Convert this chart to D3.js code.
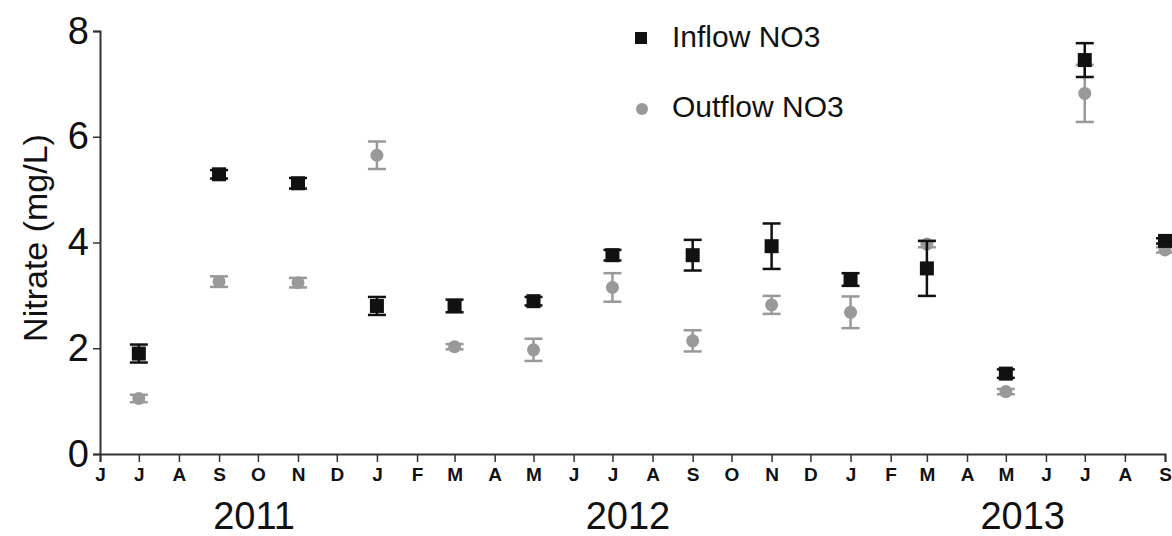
<!DOCTYPE html>
<html>
<head>
<meta charset="utf-8">
<script src="https://cdn.jsdelivr.net/npm/d3@7"></script>
<style>
  html, body { margin: 0; padding: 0; background: #fff; }
  svg { display: block; font-family: "Liberation Sans", Arial, sans-serif; }
</style>
</head>
<body>
<svg width="1172" height="536"></svg>
<script>
// sampling dates (every two months)
var dates = ["2011-07-01", "2011-09-01", "2011-11-01", "2012-01-01", "2012-03-01", "2012-05-01", "2012-07-01",
             "2012-09-01", "2012-11-01", "2013-01-01", "2013-03-01", "2013-05-01", "2013-07-01", "2013-09-01"];

var inflow    = [1.90, 5.29, 5.12, 2.80, 2.80, 2.89, 3.76, 3.76, 3.93, 3.30, 3.51, 1.52, 7.45, 4.03];
var inflowErr = [0.17, 0.08, 0.10, 0.17, 0.12, 0.08, 0.10, 0.29, 0.43, 0.12, 0.52, 0.08, 0.32, 0.05];

var outflow    = [1.05, 3.26, 3.24, 5.65, 2.03, 1.97, 3.15, 2.14, 2.82, 2.68, 3.97, 1.18, 6.82, 3.86];
var outflowErr = [0.07, 0.10, 0.09, 0.26, 0.05, 0.21, 0.27, 0.20, 0.17, 0.30, 0.06, 0.05, 0.54, 0.05];

var yTicks = [0, 2, 4, 6, 8];
var years = ["2011", "2012", "2013"];
var seriesNames = ["Inflow NO3", "Outflow NO3"];

var loadVis = function() {
    var svg = d3.select("svg");
    var parse = d3.timeParse("%Y-%m-%d");

    var x = d3.scaleTime()
        .domain([parse("2011-06-01"), parse("2013-09-01")])
        .range([100, 1165]);

    var y = d3.scaleLinear()
        .domain([0, 8])
        .range([454, 31]);

    // y axis
    var yAxis = svg.append("g")
        .attr("transform", "translate(100,0)")
        .call(d3.axisLeft(y).tickValues(yTicks).tickSize(7).tickPadding(4));
    yAxis.select(".domain").attr("stroke", "#333").attr("stroke-width", 2);
    yAxis.selectAll(".tick line").attr("stroke", "#333").attr("stroke-width", 1.5);
    yAxis.selectAll(".tick text")
        .attr("font-size", 38)
        .attr("fill", "#111")
        .attr("font-family", "Liberation Sans, Arial, sans-serif");

    // x axis
    var xAxis = svg.append("g")
        .attr("transform", "translate(0,454)")
        .call(d3.axisBottom(x)
            .ticks(d3.timeMonth.every(1))
            .tickSize(8)
            .tickPadding(6)
            .tickFormat(function(d) { return d3.timeFormat("%B")(d)[0]; }));
    xAxis.select(".domain").attr("stroke", "#333").attr("stroke-width", 2);
    xAxis.selectAll(".tick line").attr("stroke", "#333").attr("stroke-width", 1.5);
    xAxis.selectAll(".tick text")
        .attr("font-size", 19)
        .attr("font-weight", "bold")
        .attr("fill", "#111")
        .attr("font-family", "Liberation Sans, Arial, sans-serif");

    // year labels under the months
    var yearAt = ["2011-09-28", "2012-07-13", "2013-05-14"];
    svg.append("g").selectAll("text")
        .data(years).enter()
        .append("text")
            .attr("x", function(d, i) { return x(parse(yearAt[i])); })
            .attr("y", 529)
            .attr("text-anchor", "middle")
            .attr("font-size", 38)
            .attr("fill", "#111")
            .text(function(d) { return d; });

    // y label
    svg.append("text")
        .attr("transform", "translate(47,238) rotate(-90)")
        .attr("text-anchor", "middle")
        .attr("font-size", 34)
        .attr("fill", "#111")
        .text("Nitrate (mg/L)");

    var rowsIn = dates.map(function(d, i) { return { date: parse(d), v: inflow[i], e: inflowErr[i] }; });
    var rowsOut = dates.map(function(d, i) { return { date: parse(d), v: outflow[i], e: outflowErr[i] }; });

    function errorBars(rows, color, width) {
        var g = svg.append("g").attr("stroke", color).attr("stroke-width", width);
        g.selectAll("line.v").data(rows).enter().append("line")
            .attr("x1", function(d) { return x(d.date); })
            .attr("x2", function(d) { return x(d.date); })
            .attr("y1", function(d) { return y(d.v - d.e); })
            .attr("y2", function(d) { return y(d.v + d.e); });
        g.selectAll("line.top").data(rows).enter().append("line")
            .attr("x1", function(d) { return x(d.date) - 9; })
            .attr("x2", function(d) { return x(d.date) + 9; })
            .attr("y1", function(d) { return y(d.v + d.e); })
            .attr("y2", function(d) { return y(d.v + d.e); });
        g.selectAll("line.bot").data(rows).enter().append("line")
            .attr("x1", function(d) { return x(d.date) - 9; })
            .attr("x2", function(d) { return x(d.date) + 9; })
            .attr("y1", function(d) { return y(d.v - d.e); })
            .attr("y2", function(d) { return y(d.v - d.e); });
    }

    // outflow (grey circles)
    errorBars(rowsOut, "#999", 2.5);
    svg.append("g").selectAll("circle")
        .data(rowsOut).enter()
        .append("circle")
            .attr("cx", function(d) { return x(d.date); })
            .attr("cy", function(d) { return y(d.v); })
            .attr("r", 6.5)
            .attr("fill", "#999");

    // inflow (black squares)
    errorBars(rowsIn, "#111", 2.5);
    svg.append("g").selectAll("rect")
        .data(rowsIn).enter()
        .append("rect")
            .attr("x", function(d) { return x(d.date) - 7; })
            .attr("y", function(d) { return y(d.v) - 7; })
            .attr("width", 14)
            .attr("height", 14)
            .attr("fill", "#111");

    // legend
    var legend = svg.append("g");
    legend.append("rect")
        .attr("x", 635).attr("y", 32).attr("width", 12).attr("height", 12)
        .attr("fill", "#111");
    legend.append("circle")
        .attr("cx", 642).attr("cy", 109).attr("r", 6)
        .attr("fill", "#999");
    legend.selectAll("text")
        .data(seriesNames).enter()
        .append("text")
            .attr("x", 672)
            .attr("y", function(d, i) { return 47 + i * 70; })
            .attr("font-size", 30)
            .attr("fill", "#111")
            .text(function(d) { return d; });
}

document.addEventListener('DOMContentLoaded', loadVis, false);
</script>
</body>
</html>
